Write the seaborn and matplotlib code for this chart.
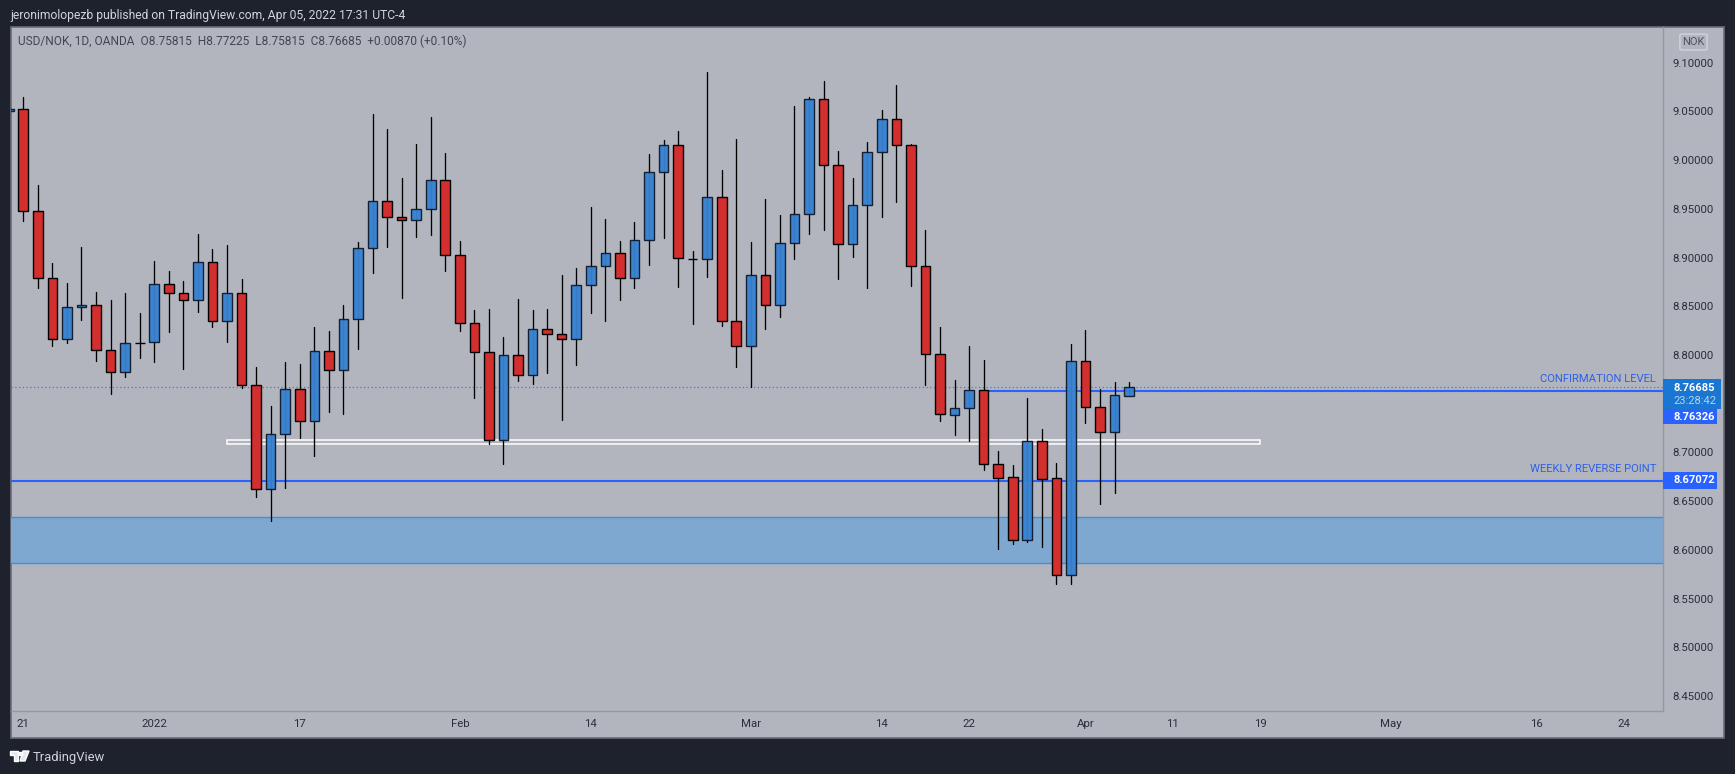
import numpy as np
import pandas as pd
import matplotlib.pyplot as plt
from matplotlib.patches import Rectangle, FancyBboxPatch, Polygon
import seaborn as sns

# Daily candles, first one is cut by the left edge
open_prices = [9.0500, 9.0521, 8.9475, 8.8787, 8.8161, 8.8490, 8.8510, 8.8049, 8.7823, 8.8127,
               8.8131, 8.8726, 8.8633, 8.8562, 8.8951, 8.8346, 8.8633, 8.7689, 8.6629, 8.7187,
               8.7648, 8.7320, 8.8038, 8.7843, 8.8367, 8.9095, 8.9577, 8.9413, 8.9382, 8.9495,
               8.9793, 8.9023, 8.8326, 8.8028, 8.7125, 8.7997, 8.7792, 8.8264, 8.8213, 8.8161,
               8.8715, 8.8910, 8.9044, 8.8787, 8.9177, 8.9875, 9.0152, 8.8989, 8.8982, 8.9618,
               8.8346, 8.8090, 8.8818, 8.8510, 8.9146, 8.9444, 9.0624, 8.9947, 8.9136, 8.9536,
               9.0080, 9.0419, 9.0152, 8.8910, 8.8007, 8.7388, 8.7453, 8.7638, 8.6886, 8.6745,
               8.6099, 8.7115, 8.6735, 8.5740, 8.7936, 8.7464, 8.7207, 8.75815]
high_prices = [9.0530, 9.0648, 8.9745, 8.8941, 8.8736, 8.9109, 8.8644, 8.8565, 8.8633, 8.8432,
               8.8965, 8.8862, 8.8760, 8.9242, 8.9088, 8.9129, 8.8777, 8.7878, 8.7477, 8.7929,
               8.7908, 8.8288, 8.8247, 8.8514, 8.9160, 9.0473, 9.0319, 8.9817, 9.0166, 9.0443,
               9.0070, 8.9167, 8.8462, 8.8473, 8.8185, 8.8575, 8.8462, 8.8473, 8.8821, 8.8890,
               8.9519, 8.9396, 8.9170, 8.9365, 9.0063, 9.0207, 9.0299, 8.9068, 9.0904, 8.9899,
               9.0217, 8.9160, 8.9601, 8.9437, 9.0555, 9.0648, 9.0812, 9.0094, 8.9817, 9.0186,
               9.0514, 9.0771, 9.0162, 8.9283, 8.8288, 8.7744, 8.8093, 8.7949, 8.7016, 8.6872,
               8.7559, 8.7241, 8.6893, 8.8114, 8.8257, 8.7652, 8.7724, 8.77225]
low_prices = [9.0490, 8.9379, 8.8691, 8.8096, 8.8127, 8.8360, 8.7943, 8.7604, 8.7778, 8.7970,
              8.7932, 8.8240, 8.7860, 8.8442, 8.8291, 8.8134, 8.7665, 8.6547, 8.6301, 8.6639,
              8.7152, 8.6968, 8.7419, 8.7399, 8.8066, 8.8845, 8.9112, 8.8589, 8.9215, 8.9235,
              8.8866, 8.8250, 8.7563, 8.7091, 8.6886, 8.7737, 8.7707, 8.7819, 8.7337, 8.7901,
              8.8435, 8.8353, 8.8568, 8.8691, 8.8927, 8.9204, 8.8702, 8.8322, 8.8804, 8.8302,
              8.7881, 8.7669, 8.8271, 8.8394, 8.8989, 8.9246, 8.9287, 8.8784, 8.9010, 8.8691,
              8.9420, 8.9574, 8.8712, 8.7696, 8.7327, 8.7180, 8.7118, 8.6821, 8.6014, 8.6065,
              8.6085, 8.6034, 8.5655, 8.5655, 8.7306, 8.6475, 8.6588, 8.75815]
close_prices = [9.0521, 8.9475, 8.8787, 8.8161, 8.8490, 8.8510, 8.8049, 8.7823, 8.8120, 8.8120,
                8.8726, 8.8633, 8.8562, 8.8951, 8.8346, 8.8633, 8.7689, 8.6629, 8.7187, 8.7648,
                8.7320, 8.8038, 8.7843, 8.8367, 8.9095, 8.9577, 8.9413, 8.9382, 8.9495, 8.9793,
                8.9023, 8.8326, 8.8028, 8.7125, 8.7997, 8.7792, 8.8264, 8.8213, 8.8161, 8.8715,
                8.8910, 8.9044, 8.8787, 8.9177, 8.9875, 9.0152, 8.8992, 8.8982, 8.9618, 8.8346,
                8.8090, 8.8818, 8.8510, 8.9146, 8.9444, 9.0624, 8.9947, 8.9136, 8.9536, 9.0080,
                9.0419, 9.0152, 8.8910, 8.8007, 8.7392, 8.7453, 8.7638, 8.6886, 8.6742, 8.6099,
                8.7115, 8.6732, 8.5740, 8.7936, 8.7464, 8.7207, 8.7587, 8.76685]

price_ticks = [9.10, 9.05, 9.00, 8.95, 8.90, 8.85, 8.80, 8.70, 8.65, 8.60, 8.55, 8.50, 8.45]
time_tick_pos = [0, 9, 19, 30, 39, 50, 59, 65, 73, 79, 85, 94, 104, 110]
time_tick_labels = ["21", "2022", "17", "Feb", "14", "Mar", "14", "22", "Apr", "11", "19", "May", "16", "24"]

last_price = 8.76685
confirmation_level = 8.76326
weekly_reverse = 8.67072
zone_low, zone_high = 8.5862, 8.6335
box_low, box_high = 8.7090, 8.7128
box_start, box_end = 14, 85
confirmation_start = 66

FIG_W, FIG_H = 1735, 774
BG = "#1e222d"
PANEL = "#b2b5be"
UP = "#3782d2"
DOWN = "#d32f2f"
LINE_BLUE = "#2962ff"
TEXT = "#2a2e39"

df = pd.DataFrame({"idx": np.arange(-1, 77), "open": open_prices, "high": high_prices,
                   "low": low_prices, "close": close_prices})
df["top"] = df[["open", "close"]].max(axis=1)
df["bottom"] = df[["open", "close"]].min(axis=1)
df["up"] = df["close"] > df["open"]
wicks = df.melt(id_vars="idx", value_vars=["high", "low"], value_name="price")

sns.set_theme(style="white")
plt.rcParams["font.family"] = ["Roboto", "DejaVu Sans"]

fig = plt.figure(figsize=(FIG_W / 100, FIG_H / 100), dpi=100, facecolor=BG)


def fx(x):
    return x / FIG_W


def fy(y):
    return 1 - y / FIG_H


# outer panel, includes the time strip under the axes
fig.add_artist(Rectangle((fx(10.5), fy(738)), fx(1724 - 10.5), 711 / FIG_H, transform=fig.transFigure,
                         facecolor=PANEL, edgecolor="#6a6d78", linewidth=1.2, zorder=-1))

ax = fig.add_axes([fx(11), fy(711), fx(1663 - 11), (711 - 27) / FIG_H])
ax.patch.set_alpha(0)

# drawings go under the candles
ax.axhspan(zone_low, zone_high, facecolor="#7fa8d0", edgecolor="none", zorder=1)
ax.axhline(zone_low, color="#3f8fdc", lw=1, zorder=1.1)
ax.axhline(zone_high, color="#3f8fdc", lw=1, zorder=1.1)
ax.axhline(last_price, color="#3d7fcf", lw=0.9, ls=(0, (1, 2)), zorder=1.2)
ax.axhline(weekly_reverse, color=LINE_BLUE, lw=1.5, zorder=1.2)
ax.plot([confirmation_start, 200], [confirmation_level, confirmation_level], color=LINE_BLUE, lw=1.5, zorder=1.2)
ax.add_patch(Rectangle((box_start, box_low), box_end - box_start, box_high - box_low,
                       facecolor="none", edgecolor="white", lw=1.1, zorder=1.3))

sns.lineplot(data=wicks, x="idx", y="price", units="idx", estimator=None, color="black",
             lw=0.95, sort=False, legend=False, ax=ax, zorder=2)

ups = df[df["up"]]
downs = df[~df["up"]]
ax.bar(ups["idx"], ups["top"] - ups["bottom"], bottom=ups["bottom"], width=0.66, color=UP,
       edgecolor="#0f1a2a", linewidth=1.0, alpha=0.95, zorder=3)
ax.bar(downs["idx"], downs["top"] - downs["bottom"], bottom=downs["bottom"], width=0.66, color=DOWN,
       edgecolor="black", linewidth=1.0, zorder=3)

ax.set_xlim(-0.845, 112.69)
ax.set_ylim(8.4347, 9.1366)
ax.set_xlabel("")
ax.set_ylabel("")
ax.set_xticks(time_tick_pos, time_tick_labels)
ax.yaxis.tick_right()
ax.set_yticks(price_ticks, [f"{p:.5f}" for p in price_ticks])
ax.tick_params(axis="x", length=0, pad=6, labelsize=8.2, colors=TEXT)
ax.tick_params(axis="y", length=0, pad=7, labelsize=8.2, colors=TEXT)
for side in ["top", "left"]:
    ax.spines[side].set_visible(False)
for side in ["bottom", "right"]:
    ax.spines[side].set_color("#9598a1")
    ax.spines[side].set_linewidth(1)

# labels on the drawings
fig.text(fx(1656), fy(379), "CONFIRMATION LEVEL", color="#2f60e8", fontsize=8.15, ha="right", va="center")
fig.text(fx(1656), fy(469), "WEEKLY REVERSE POINT", color="#2f60e8", fontsize=8.15, ha="right", va="center")


def badge(y0, y1, right, color):
    fig.add_artist(Rectangle((fx(1663), fy(y1)), fx(right - 1663), (y1 - y0) / FIG_H,
                             transform=fig.transFigure, facecolor=color, edgecolor="none", zorder=5))


badge(379, 409, 1721, "#1976d2")
badge(409, 424, 1717, LINE_BLUE)
badge(472, 489, 1717, LINE_BLUE)
fig.text(fx(1673), fy(388), f"{last_price:.5f}", color="white", fontsize=8.0, fontweight="bold", va="center", zorder=6)
fig.text(fx(1673), fy(401), "23:28:42", color="#b5d3f0", fontsize=8.0, va="center", zorder=6)
fig.text(fx(1673), fy(416.5), f"{confirmation_level:.5f}", color="white", fontsize=8.0, fontweight="bold", va="center", zorder=6)
fig.text(fx(1673), fy(480.5), f"{weekly_reverse:.5f}", color="white", fontsize=8.0, fontweight="bold", va="center", zorder=6)

# currency button
fig.add_artist(FancyBboxPatch((fx(1682), fy(49)), fx(23), 14 / FIG_H, boxstyle="round,pad=0.0012",
                              transform=fig.transFigure, facecolor="#b2b5be", edgecolor="#d1d4dc", lw=1))
fig.text(fx(1693.5), fy(42), "NOK", color="#50535e", fontsize=8.0, ha="center", va="center")

# header, legend line and footer
fig.text(fx(10), fy(15.5), "jeronimolopezb published on TradingView.com, Apr 05, 2022 17:31 UTC-4",
         color="#d1d4dc", fontsize=8.7, va="center")
fig.text(fx(18), fy(41.5), "USD/NOK, 1D, OANDA  O8.75815  H8.77225  L8.75815  C8.76685  +0.00870 (+0.10%)",
         color="#434651", fontsize=8.56, va="center")
fig.text(fx(33), fy(757), "TradingView", color="#d1d4dc", fontsize=9.4, va="center")

# TradingView logo
logo = "#e6e8ee"
fig.add_artist(Polygon([(fx(10), fy(751)), (fx(18), fy(751)), (fx(18), fy(761)), (fx(14), fy(761)),
                        (fx(14), fy(755)), (fx(10), fy(755))], transform=fig.transFigure, facecolor=logo))
fig.add_artist(Polygon([(fx(23), fy(751)), (fx(29), fy(751)), (fx(25), fy(761)), (fx(20), fy(761))],
                       transform=fig.transFigure, facecolor=logo))
fig.add_artist(Rectangle((fx(18.5), fy(755)), fx(3), 3.5 / FIG_H, transform=fig.transFigure, facecolor=logo))

fig.savefig("out.png", dpi=100, facecolor=BG)
